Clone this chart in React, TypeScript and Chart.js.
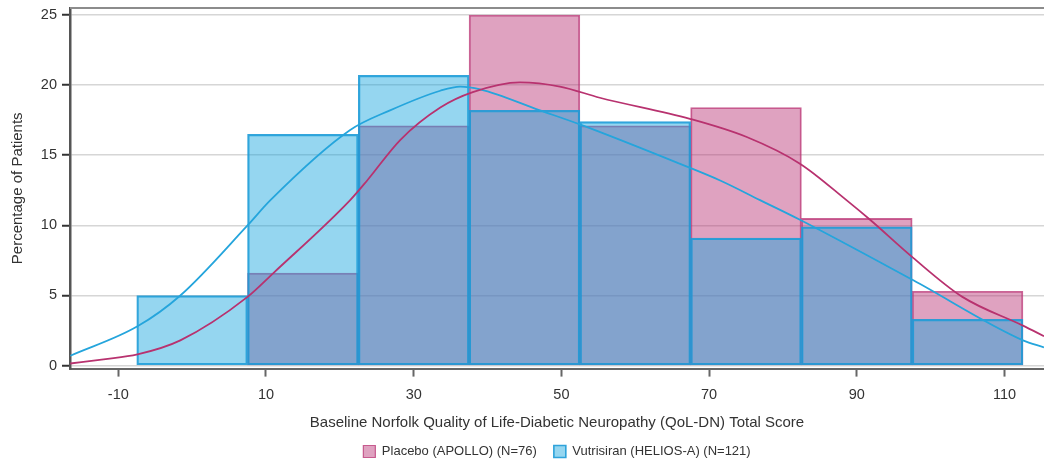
import React, { useEffect, useRef } from 'react';
import { Chart, registerables } from 'chart.js';

Chart.register(...registerables);

// Histogram bins (width 15, centred on these scores)
const binCenters = [0, 15, 30, 45, 60, 75, 90, 105];
const placeboPct = [null, 6.6, 17.1, 25.0, 17.1, 18.4, 10.5, 5.3];
const vutrisiranPct = [5.0, 16.5, 20.7, 18.2, 17.4, 9.1, 9.9, 3.3];

// Density curves
const placeboKdeX = [-16.5, -12, -7.4, -1.6, 7.5, 11, 21.4, 23.7, 28.2, 33.6, 38, 44.4, 49.8, 55.2, 67.4, 75.1, 82.3, 88.6, 91.8, 97.6, 104.3, 112.5, 115.35];
const placeboKdeY = [0.15, 0.45, 0.8, 1.8, 4.9, 6.6, 11.8, 13.2, 16.1, 18.4, 19.5, 20.2, 19.9, 19.1, 17.6, 16.3, 14.4, 11.8, 10.4, 7.7, 4.9, 2.85, 2.1];
const vutrisiranKdeX = [-16.5, -7.4, -1.6, 7.5, 10.6, 21.4, 26.8, 33.6, 36.3, 39, 47.1, 52.5, 66, 71.5, 76.9, 82.3, 97.6, 112.5, 115.35];
const vutrisiranKdeY = [0.7, 2.8, 5.0, 10.0, 11.8, 16.8, 18.2, 19.6, 19.9, 19.7, 18.2, 17.2, 14.4, 13.2, 11.8, 10.4, 6.1, 1.8, 1.3];

const xTickValues = [-10, 10, 30, 50, 70, 90, 110];
const yTickValues = [0, 5, 10, 15, 20, 25];

const X_MIN = -16.54;
const X_MAX = 115.35;
const Y_MIN = -0.214;
const Y_MAX = 25.5;

const FONT = '"Liberation Sans", Arial, sans-serif';

const topBorder = {
  id: 'topBorder',
  afterDatasetsDraw(chart: any) {
    const { ctx, chartArea } = chart;
    ctx.save();
    ctx.strokeStyle = '#8c8c8c';
    ctx.lineWidth = 2;
    ctx.beginPath();
    ctx.moveTo(chartArea.left, chartArea.top);
    ctx.lineTo(chartArea.right, chartArea.top);
    ctx.stroke();
    ctx.restore();
  },
};

export default function App() {
  const ref = useRef<HTMLCanvasElement | null>(null);

  useEffect(() => {
    if (!ref.current) return;
    const chart = new Chart(ref.current, {
      type: 'bar',
      data: {
        datasets: [
          {
            type: 'bar',
            label: 'Placebo (APOLLO) (N=76)',
            data: binCenters.map((x, i) => ({ x, y: placeboPct[i] })) as any,
            backgroundColor: 'rgba(180,40,110,0.43)',
            borderColor: 'rgba(185,50,115,0.75)',
            borderWidth: 1.2,
            borderSkipped: false,
            grouped: false,
            barPercentage: 1,
            categoryPercentage: 1,
            order: 3,
          },
          {
            type: 'bar',
            label: 'Vutrisiran (HELIOS-A) (N=121)',
            data: binCenters.map((x, i) => ({ x, y: vutrisiranPct[i] })) as any,
            backgroundColor: 'rgba(20,165,222,0.45)',
            borderColor: 'rgba(30,155,215,0.9)',
            borderWidth: 1.6,
            borderSkipped: false,
            grouped: false,
            barPercentage: 1,
            categoryPercentage: 1,
            order: 2,
          },
          {
            type: 'line',
            label: 'Placebo density',
            data: placeboKdeX.map((x, i) => ({ x, y: placeboKdeY[i] })) as any,
            borderColor: '#b8326f',
            borderWidth: 1.8,
            pointRadius: 0,
            fill: false,
            cubicInterpolationMode: 'monotone',
            order: 0,
          },
          {
            type: 'line',
            label: 'Vutrisiran density',
            data: vutrisiranKdeX.map((x, i) => ({ x, y: vutrisiranKdeY[i] })) as any,
            borderColor: '#25a5dc',
            borderWidth: 1.8,
            pointRadius: 0,
            fill: false,
            cubicInterpolationMode: 'monotone',
            order: 1,
          },
        ],
      },
      options: {
        responsive: false,
        animation: false,
        devicePixelRatio: 1,
        layout: { padding: { top: 8, left: 0, right: 0, bottom: -7 } },
        plugins: {
          tooltip: { enabled: false },
          title: { display: false },
          legend: {
            position: 'bottom',
            fullSize: false,
            labels: {
              filter: (item: any) => item.datasetIndex < 2,
              sort: (a: any, b: any) => a.datasetIndex - b.datasetIndex,
              boxWidth: 12,
              boxHeight: 12,
              padding: 17,
              color: '#333',
              font: { family: FONT, size: 13 },
            },
          },
        },
        scales: {
          x: {
            type: 'linear',
            min: X_MIN,
            max: X_MAX,
            offset: false,
            afterBuildTicks: (scale: any) => {
              scale.ticks = xTickValues.map((value) => ({ value }));
            },
            ticks: {
              color: '#333',
              padding: 10,
              autoSkip: false,
              maxRotation: 0,
              font: { family: FONT, size: 14.5 },
            },
            grid: {
              offset: false,
              drawOnChartArea: false,
              drawTicks: true,
              tickLength: 8,
              tickColor: '#666',
              tickWidth: 2,
            },
            border: { display: true, color: '#666', width: 2 },
            title: {
              display: true,
              text: 'Baseline Norfolk Quality of Life-Diabetic Neuropathy (QoL-DN) Total Score',
              color: '#333',
              font: { family: FONT, size: 15 },
              padding: { top: 0, bottom: -4 },
            },
          },
          y: {
            type: 'linear',
            min: Y_MIN,
            max: Y_MAX,
            afterBuildTicks: (scale: any) => {
              scale.ticks = yTickValues.map((value) => ({ value }));
            },
            afterFit: (scale: any) => {
              scale.width = 70;
              scale.paddingTop = 0;
              scale.paddingBottom = 0;
            },
            ticks: {
              color: '#333',
              padding: 5,
              font: { family: FONT, size: 14.5 },
            },
            grid: {
              color: '#d6d6d6',
              lineWidth: 1.5,
              drawTicks: true,
              tickLength: 8,
              tickColor: '#333',
              tickWidth: 2,
            },
            border: { display: true, color: '#555', width: 2.5 },
            title: {
              display: true,
              text: 'Percentage of Patients',
              color: '#333',
              font: { family: FONT, size: 15 },
              padding: { top: 8.5, bottom: 0 },
            },
          },
        },
      },
      plugins: [topBorder],
    } as any);
    return () => chart.destroy();
  }, []);

  return (
    <div style={{ position: 'absolute', left: 0, top: 0, width: 1044, height: 461, background: '#fff' }}>
      <canvas ref={ref} width={1044} height={461} style={{ display: 'block' }} />
    </div>
  );
}
